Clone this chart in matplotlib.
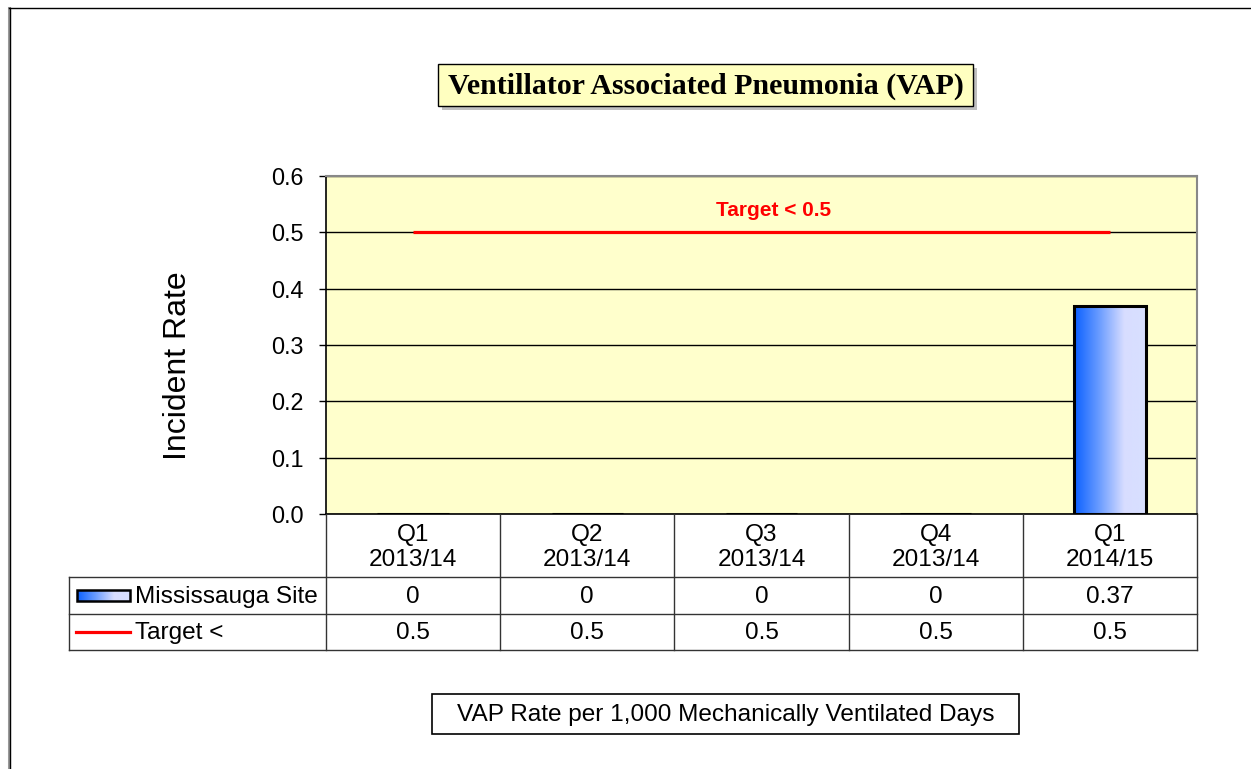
import numpy as np
import matplotlib
matplotlib.use("Agg")
import matplotlib.pyplot as plt
from matplotlib.patches import Rectangle
from matplotlib.lines import Line2D
import matplotlib.transforms as mtrans
from matplotlib.colors import LinearSegmentedColormap

# ---- data ----
quarters = ["Q1", "Q2", "Q3", "Q4", "Q1"]
years = ["2013/14", "2013/14", "2013/14", "2013/14", "2014/15"]
site_values = [0, 0, 0, 0, 0.37]
site_labels = ["0", "0", "0", "0", "0.37"]
target_values = [0.5, 0.5, 0.5, 0.5, 0.5]
target_labels = ["0.5", "0.5", "0.5", "0.5", "0.5"]
yticks = [0.0, 0.1, 0.2, 0.3, 0.4, 0.5, 0.6]
series_names = ["Mississauga Site", "Target <"]
title = "Ventillator Associated Pneumonia (VAP)"
ylabel = "Incident Rate"
target_text = "Target < 0.5"
footer = "VAP Rate per 1,000 Mechanically Ventilated Days"

W, H = 1251, 769
fig = plt.figure(figsize=(W / 100, H / 100), dpi=100)
plt.rcParams['font.family'] = ['Liberation Sans', 'DejaVu Sans']
FS = 17.6

L, R, T, B = 326, 1197, 176, 514
ax = fig.add_axes([L / W, 1 - B / H, (R - L) / W, (B - T) / H])
ax.set_facecolor("#ffffcc")

n = len(quarters)
x = np.arange(n)
cmap = LinearSegmentedColormap.from_list("g", [(0, "#0a60ff"), (0.35, "#6a9cff"), (0.7, "#d8ddff"), (1.0, "#d8e0ff")])
grad = np.linspace(0, 1, 256).reshape(1, -1)

bars = ax.bar(x, site_values, width=0.41, facecolor="none", edgecolor="black", linewidth=2.2, zorder=4)
for b in bars:
    if b.get_height() > 0:
        im = ax.imshow(grad, cmap=cmap, aspect="auto", zorder=3,
                       extent=[b.get_x(), b.get_x() + b.get_width(), 0, b.get_height()])
        im.set_clip_path(b)

ax.plot(x, target_values, color="#ff0000", linewidth=2.3, zorder=5, solid_capstyle="butt")
ax.text(2.07, 0.538, target_text, color="#ff0000", fontsize=15, fontweight="bold",
        ha="center", va="center", zorder=6)

ax.set_xlim(-0.5, n - 0.5)
ax.set_ylim(0, 0.6)
ax.set_yticks(yticks)
ax.set_yticklabels([f"{v:.1f}" for v in yticks], fontsize=16.8)
ax.tick_params(axis="y", direction="out", length=5, width=1, pad=11, colors="black")
ax.set_xticks([])
ax.yaxis.grid(True, color="black", linewidth=1)
ax.set_axisbelow(True)
for s in ["top", "right"]:
    ax.spines[s].set_color("#888888")
    ax.spines[s].set_linewidth(1.5)
for s in ["left", "bottom"]:
    ax.spines[s].set_color("black")
    ax.spines[s].set_linewidth(1.2)

# ---- decoration overlay in pixel coordinates ----
deco = fig.add_axes([0, 0, 1, 1])
deco.set_xlim(0, W)
deco.set_ylim(H, 0)
deco.axis("off")
deco.set_zorder(3)

deco.text(178, 366, ylabel, rotation=90, ha="center", va="center", fontsize=23)

# outer frame
deco.add_line(Line2D([9, 9], [8, H + 5], color="#999999", linewidth=2.2))
deco.add_line(Line2D([9.5, 9.5], [8, H + 5], color="black", linewidth=1))
deco.add_line(Line2D([9, W + 5], [8, 8], color="black", linewidth=1))

# title box with shadow
deco.add_patch(Rectangle((442, 68), 535, 42, facecolor="#c0c0c0", edgecolor="none"))
deco.add_patch(Rectangle((438, 64), 535, 42, facecolor="#ffffc0", edgecolor="black", linewidth=1))
deco.text(706, 86, title, fontsize=21.5, fontweight="bold", family=["Liberation Serif", "DejaVu Serif"],
          ha="center", va="center")

# table
blend = mtrans.blended_transform_factory(ax.transData, deco.transData)
LT = 69
lc = "#333333"
for yy in [577, 614, 650]:
    deco.add_line(Line2D([LT, R], [yy, yy], color=lc, linewidth=1))
deco.add_line(Line2D([LT, LT], [577, 650], color=lc, linewidth=1))
deco.add_line(Line2D([L, L], [514, 650], color=lc, linewidth=1))
for i in range(n):
    xb = i + 0.5
    deco.add_line(Line2D([xb, xb], [514, 650], color=lc, linewidth=1, transform=blend))
for i in range(n):
    deco.text(i, 547.5, f"{quarters[i]}\n{years[i]}", transform=blend, ha="center", va="center",
              fontsize=FS, linespacing=1.2)
    deco.text(i, 597, site_labels[i], transform=blend, ha="center", va="center", fontsize=FS)
    deco.text(i, 633, target_labels[i], transform=blend, ha="center", va="center", fontsize=FS)

# legend keys
key = Rectangle((77, 590), 53, 11, facecolor="none", edgecolor="black", linewidth=1.8, zorder=5)
deco.add_patch(key)
imk = deco.imshow(grad, cmap=cmap, aspect="auto", extent=[77, 130, 601, 590], zorder=4)
imk.set_clip_path(key)
deco.add_line(Line2D([76, 130], [632, 632], color="#ff0000", linewidth=2.3))
deco.text(135, 597, series_names[0], ha="left", va="center", fontsize=FS)
deco.text(135, 633, series_names[1], ha="left", va="center", fontsize=FS)

# footer box
deco.add_patch(Rectangle((432, 694), 587, 40, facecolor="white", edgecolor="black", linewidth=1.2))
deco.text(725.5, 715, footer, ha="center", va="center", fontsize=FS)

deco.set_xlim(0, W)
deco.set_ylim(H, 0)

fig.savefig("out.png", dpi=100)
